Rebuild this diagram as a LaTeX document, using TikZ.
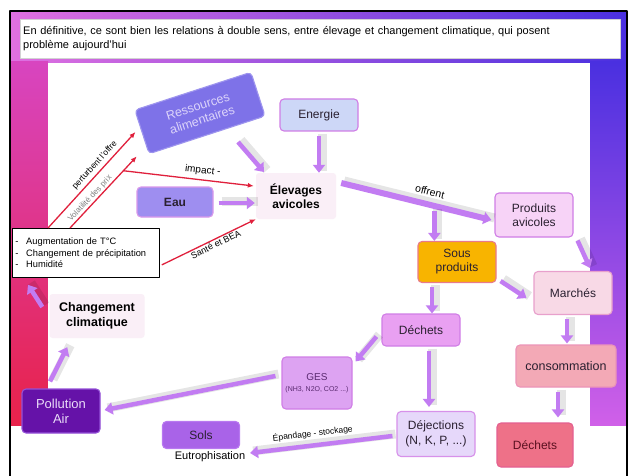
\documentclass[tikz,border=0pt]{standalone}
\usepackage{fontspec}
\setmainfont{Liberation Sans}
\usetikzlibrary{arrows.meta,positioning}
\definecolor{fpink}{HTML}{E070E0}
\definecolor{fpurple}{HTML}{8A28D0}
\definecolor{fblue}{HTML}{4A30E0}
\definecolor{fmag}{HTML}{D845C0}
\definecolor{fred}{HTML}{E8224A}
\definecolor{fviolet}{HTML}{7A22D0}
\definecolor{fmauve}{HTML}{D060E8}
\definecolor{flowc}{HTML}{C27CF2}
\definecolor{redc}{HTML}{E0203C}
\definecolor{ressc}{HTML}{7E72E8}
\definecolor{resstxt}{HTML}{DCD4FA}
\definecolor{enerc}{HTML}{CDD7F7}
\definecolor{boxline}{HTML}{D07EE6}
\definecolor{eauc}{HTML}{9E8EF0}
\definecolor{palec}{HTML}{FAEFF7}
\definecolor{prodc}{HTML}{F7D3F7}
\definecolor{sousc}{HTML}{F8B400}
\definecolor{sousline}{HTML}{E87A8C}
\definecolor{marchc}{HTML}{F8D9E6}
\definecolor{marchline}{HTML}{E8A0CC}
\definecolor{dechc}{HTML}{E9A0F2}
\definecolor{consoc}{HTML}{F3A9B6}
\definecolor{consoline}{HTML}{EC94B8}
\definecolor{dechtwoc}{HTML}{EE7188}
\definecolor{dechtwoline}{HTML}{E45F90}
\definecolor{dechtwotxt}{HTML}{5A1020}
\definecolor{gesc}{HTML}{DDA3F2}
\definecolor{gestxt}{HTML}{5A2A70}
\definecolor{dejc}{HTML}{E6D8FA}
\definecolor{solsc}{HTML}{A963E8}
\definecolor{solsline}{HTML}{B878F0}
\definecolor{pollc}{HTML}{6512A8}
\definecolor{pollline}{HTML}{9450D8}
\definecolor{polltxt}{HTML}{EADCF8}
\definecolor{inktxt}{HTML}{2A2030}
\tikzset{
  box/.style={draw=boxline, line width=1.1pt, rounded corners=4pt, align=center,
    text=inktxt, inner sep=2pt, font=\fontsize{12}{14}\selectfont},
  pale/.style={fill=palec, rounded corners=3pt, align=center, text=black,
    font=\bfseries\fontsize{12}{14}\selectfont},
  flow/.style={draw=flowc, line width=4.5pt, -{Triangle[width=12pt,length=8pt]},
    preaction={draw=black, opacity=.1, line width=9pt, -,
      transform canvas={shift={(3pt,2pt)}}}},
  redline/.style={draw=redc, line width=1.3pt, -{Latex[length=6pt,width=5pt]}},
  lab/.style={font=\fontsize{8.5}{10}\selectfont, text=black, inner sep=1pt}
}
\begin{document}
\begin{tikzpicture}[x=1pt,y=-1pt, line join=round]
\useasboundingbox (0,0) rectangle (629,476);
% cadre
\shade[left color=fpink, middle color=fpurple, right color=fblue] (10,12) rectangle (627,63);
\shade[top color=fmag, bottom color=fred] (10,62) rectangle (48,425);
\shade[top color=fblue, middle color=fviolet, bottom color=fmauve] (590,62) rectangle (627,425);
\fill[white] (48,63) rectangle (590,476);
\draw[line width=1.2pt] (10,476) -- (10,11) -- (627,11) -- (627,476);
\node[anchor=north west, draw=gray!35, fill=white, minimum width=600pt, minimum height=39pt,
  text width=594pt, inner sep=3pt, align=left, font=\fontsize{11}{14.5}\selectfont] (title) at (20,19)
  {En définitive, ce sont bien les relations à double sens, entre élevage et changement climatique, qui posent\\problème aujourd'hui};
% noeuds
\node[box, fill=ressc, draw=ressc!75!white, text=resstxt, rotate=18, minimum width=122pt, minimum height=46pt, font=\fontsize{12.5}{14}\selectfont] (ress) at (200,113) {Ressources\\alimentaires};
\node[box, fill=enerc, minimum width=78pt, minimum height=32pt] (energie) at (319,115) {Energie};
\node[box, fill=eauc, draw=boxline!80!white, minimum width=76pt, minimum height=30pt, font=\bfseries\fontsize{12}{14}\selectfont] (eau) at (175,202) {Eau};
\node[pale, minimum width=80pt, minimum height=46pt] (elev) at (296,196) {Élevages\\avicoles};
\node[draw=black, fill=white, line width=.8pt, text width=141pt, inner xsep=3pt, inner ysep=2pt,
  minimum height=49pt, align=left, anchor=north west, font=\fontsize{9.3}{11.5}\selectfont] (facteurs) at (12,228)
  {-\enspace\ Augmentation de T°C\\-\enspace\ Changement de précipitation\\-\enspace\ Humidité};
\node[pale, font=\bfseries\fontsize{12.5}{15}\selectfont, minimum width=95pt, minimum height=44pt] (cc) at (97,316) {Changement\\climatique};
\node[box, fill=pollc, draw=pollline, text=polltxt, minimum width=78pt, minimum height=44pt, font=\fontsize{13}{15}\selectfont] (pollution) at (61,411) {Pollution\\Air};
\node[box, fill=gesc, text=gestxt, minimum width=70pt, minimum height=52pt, font=\fontsize{10}{11}\selectfont] (ges) at (317,383) {GES\\{\fontsize{7}{8}\selectfont (NH3, N2O, CO2 ...)}};
\node[box, fill=dechc, minimum width=78pt, minimum height=32pt] (dechets1) at (421,330) {Déchets};
\node[box, fill=sousc, draw=sousline, minimum width=78pt, minimum height=41pt] (sousprod) at (457,262) {Sous\\produits};
\node[box, fill=prodc, minimum width=78pt, minimum height=44pt] (produits) at (534,215) {Produits\\avicoles};
\node[box, fill=marchc, draw=marchline, minimum width=78pt, minimum height=43pt] (marches) at (573,293) {Marchés};
\node[box, fill=consoc, draw=consoline, minimum width=100pt, minimum height=42pt, font=\fontsize{12.5}{14}\selectfont] (conso) at (566,366) {consommation};
\node[box, fill=dechtwoc, draw=dechtwoline, text=dechtwotxt, minimum width=76pt, minimum height=44pt] (dechets2) at (535,445) {Déchets};
\node[box, fill=dejc, draw=boxline!85!white, minimum width=78pt, minimum height=45pt, font=\fontsize{12}{15}\selectfont] (dejections) at (436,434) {Déjections\\(N, K, P, ...)};
\node[box, fill=solsc, draw=solsline, minimum width=77pt, minimum height=27pt] (sols) at (201,435) {Sols};
\node[below=1pt of sols, xshift=9pt, lab, font=\fontsize{11}{12}\selectfont] (eutro) {Eutrophisation};
% fleches rouges
\draw[redline] ([shift={(36,0)}]facteurs.north west) -- node[lab, sloped, above=2pt, pos=.6]{perturbent l'offre} ([shift={(-6,0)}]ress.west);
\draw[redline] ([shift={(58,0)}]facteurs.north west) -- node[lab, text=gray, sloped, above=0pt, pos=.36, font=\fontsize{8}{9}\selectfont]{Volatilité des prix} coordinate[pos=.8] (imp) ([shift={(-12,2)}]ress.south west);
\draw[redline] (imp) -- node[lab, sloped, above=3pt, pos=.6, font=\fontsize{10}{11}\selectfont]{impact -} ([shift={(-2,-10)}]elev.west);
\draw[redline] ([shift={(2,12)}]facteurs.east) -- node[lab, sloped, below, pos=.55, font=\fontsize{9}{10}\selectfont]{Santé et BEA} (elev.south west);
% fleches violettes
\draw[flow] ([shift={(38,29)}]ress.center) -- ([shift={(-32,-24)}]elev.center);
\draw[flow] ([shift={(0,4)}]energie.south) -- ([shift={(23,0)}]elev.north);
\draw[flow] ([shift={(5,1)}]eau.east) -- ([shift={(-1,7)}]elev.west);
\draw[flow, line width=6pt] ([shift={(5,-13)}]elev.east) -- node[lab, sloped, above=5pt, pos=.57, font=\fontsize{10.5}{12}\selectfont]{offrent} coordinate[pos=.62] (split) ([shift={(-3,5)}]produits.west);
\draw[flow] ([shift={(0,5)}]split) -- (split |- sousprod.north);
\draw[flow] ([shift={(4,3)}]produits.south east) -- ([shift={(17,-3)}]marches.north);
\draw[flow] ([shift={(4,-2)}]sousprod.south east) -- ([shift={(-7,5)}]marches.west);
\draw[flow] ([shift={(-25,4)}]sousprod.south) -- ([shift={(11,0)}]dechets1.north);
\draw[flow] ([shift={(-6,4)}]marches.south) -- ([shift={(1,-1)}]conso.north);
\draw[flow] ([shift={(-8,4)}]conso.south) -- ([shift={(23,-5)}]dechets2.north);
\draw[flow] ([shift={(8,4)}]dechets1.south) -- ([shift={(-7,-4)}]dejections.north);
\draw[flow] ([shift={(-5,-10)}]dechets1.south west) -- ([shift={(3,5)}]ges.north east);
\draw[flow] ([shift={(-6,-7)}]ges.west) -- ([shift={(4,-1)}]pollution.east);
\draw[flow] ([shift={(-4,2)}]dejections.west) -- node[lab, sloped, above=4pt, pos=.55, font=\fontsize{8.5}{9}\selectfont]{Épandage - stockage} ([shift={(10,18)}]sols.east);
\draw[flow] ([shift={(-11,-7)}]pollution.north) -- ([shift={(18,9)}]cc.south west);
\draw[flow] ([shift={(-7,-9)}]cc.west) -- ([shift={(16,7)}]facteurs.south west);
\end{tikzpicture}
\end{document}
